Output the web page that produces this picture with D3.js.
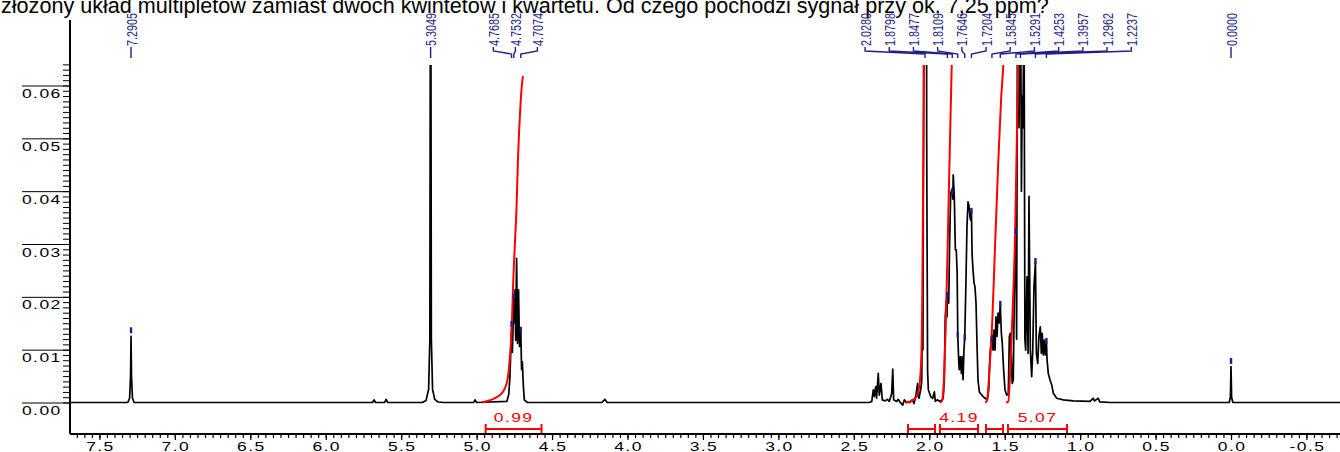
<!DOCTYPE html>
<html><head><meta charset="utf-8">
<script src="https://cdn.jsdelivr.net/npm/d3@7"></script>
<style>
html,body{margin:0;padding:0;background:#fff;overflow:hidden}
svg{display:block}
</style></head><body>
<svg id="chart" width="1340" height="452"></svg>
<script>
// ---------- data ----------
const titleText = "złożony układ multipletów zamiast dwóch kwintetów i kwartetu. Od czego pochodzi sygnał przy ok. 7,25 ppm?";

const xTickLabels = ["7.5","7.0","6.5","6.0","5.5","5.0","4.5","4.0","3.5","3.0","2.5","2.0","1.5","1.0","0.5","0.0","-0.5"];
const yTickLabels = ["0.00","0.01","0.02","0.03","0.04","0.05","0.06"];

// 1H spectrum trace: chemical shift (ppm) and intensity
const spectrumPpm = [
  7.695, 7.40, 7.312, 7.300, 7.2935, 7.2905, 7.2875, 7.281, 7.270,
  5.80, 5.69, 5.68, 5.67, 5.61, 5.60, 5.59,
  5.36, 5.335, 5.318, 5.310, 5.3049, 5.300, 5.292, 5.278, 5.255, 5.22,
  5.02, 5.01, 5.00,
  4.800, 4.787, 4.779, 4.7685, 4.763, 4.7532, 4.749, 4.745, 4.741, 4.735, 4.729, 4.722, 4.716,
  4.7074, 4.702, 4.697, 4.690, 4.684, 4.664,
  4.17, 4.15, 4.135,
  2.40, 2.381, 2.371, 2.364, 2.355, 2.349, 2.338, 2.331, 2.320, 2.311, 2.293, 2.278, 2.265,
  2.249, 2.242, 2.236, 2.216, 2.205, 2.194, 2.176, 2.165, 2.149, 2.128, 2.112, 2.101, 2.088,
  2.077, 2.068, 2.057, 2.050, 2.046, 2.042, 2.038, 2.032, 2.024, 2.017, 2.011, 2.006, 1.990, 1.977,
  1.966, 1.960, 1.947, 1.929, 1.911, 1.907, 1.900, 1.894, 1.887, 1.882, 1.8798, 1.871, 1.865,
  1.858, 1.8477, 1.844, 1.841, 1.834, 1.827, 1.821, 1.815, 1.8109, 1.805, 1.801, 1.794, 1.787,
  1.781, 1.776, 1.770, 1.7646, 1.756, 1.750, 1.743, 1.736, 1.730, 1.726, 1.7204, 1.716, 1.710,
  1.703, 1.697, 1.690, 1.683, 1.677, 1.668, 1.652, 1.630, 1.615, 1.606, 1.597, 1.591, 1.5845,
  1.577, 1.571, 1.564, 1.558, 1.551, 1.544, 1.538, 1.5291, 1.522, 1.516, 1.507, 1.498, 1.487,
  1.476, 1.469, 1.463, 1.456, 1.450, 1.443, 1.436, 1.4253, 1.421, 1.414, 1.405, 1.3957, 1.389,
  1.384, 1.379, 1.372, 1.366, 1.361, 1.352, 1.345, 1.339, 1.330, 1.321, 1.314, 1.306, 1.2962,
  1.290, 1.281, 1.273, 1.264, 1.257, 1.251, 1.244, 1.237, 1.231, 1.2237, 1.219, 1.211, 1.200,
  1.188, 1.177, 1.155, 1.111, 1.045, 0.935, 0.913, 0.905, 0.895, 0.880, 0.870, 0.80,
  0.012, 0.004, 0.0, -0.004, -0.012, -0.7224
];
const spectrumIntensity = [
  0, 0, 0, 0.0008, 0.005, 0.0125, 0.005, 0.0008, 0,
  0, 0, 0.0005, 0, 0, 0.0006, 0,
  0, 0.0004, 0.0025, 0.012, 0.11, 0.012, 0.0025, 0.0006, 0.0001, 0,
  0, 0.0005, 0,
  0.0002, 0.0015, 0.0050, 0.0142, 0.0095, 0.0197, 0.0150, 0.0213, 0.0118, 0.0273, 0.0112, 0.0213, 0.0106,
  0.0140, 0.0062, 0.0077, 0.0030, 0.0005, 0,
  0, 0.0006, 0,
  0, 0.0002, 0.0024, 0.0011, 0.0030, 0.0008, 0.0055, 0.0014, 0.0036, 0.0005, 0.0003, 0.0006, 0.0002,
  0.0017, 0.0063, 0.0005, 0.0002, 0.0006, 0.0001, -0.0005, 0.0005, 0, 0, 0.0005, -0.0002, 0.0014,
  0.0036, 0.0008, 0.0024, 0.0040, 0.0156, 0.0100, 0.05, 0.30, 0.30, 0.05, 0.0060, 0.0024, 0.0011, 0.0008,
  0.0020, 0.0002, 0.0005, 0.0002, 0.0006, 0.0011, 0.0043, 0.0162, 0.0194, 0.0162, 0.0205, 0.0188, 0.0301,
  0.0396, 0.0405, 0.0385, 0.0431, 0.0390, 0.0289, 0.0289, 0.0245, 0.0128, 0.0080, 0.0062, 0.0087, 0.0055,
  0.0087, 0.0043, 0.0099, 0.0125, 0.0238, 0.0333, 0.0380, 0.0371, 0.0352, 0.0345, 0.0362, 0.0280, 0.0251,
  0.0226, 0.0219, 0.0188, 0.0106, 0.0043, 0.0020, 0.0014, 0.0008, 0.0005, 0.0024, 0.0093, 0.0110, 0.0128,
  0.0099, 0.0137, 0.0099, 0.0162, 0.0125, 0.0169, 0.0150, 0.0185, 0.0131, 0.0112, 0.0062, 0.0024, 0.0014,
  0.0017, 0.0125, 0.0131, 0.0093, 0.0036, 0.0043, 0.0207, 0.0322, 0.0120, 0.090, 0.052, 0.085, 0.040,
  0.058, 0.052, 0.080, 0.0120, 0.0099, 0.0238, 0.0093, 0.0390, 0.0099, 0.0049, 0.0099, 0.0219, 0.0265,
  0.0093, 0.0074, 0.0125, 0.0143, 0.0093, 0.0131, 0.0090, 0.0118, 0.0090, 0.0118, 0.0080, 0.0055, 0.0043,
  0.0033, 0.0017, 0.0008, 0.0005, 0.0003, 0.0002, 0.0008, 0.0003, 0.0005, 0.0008, 0.0001, 0,
  0, 0.0010, 0.0068, 0.0010, 0, 0
];

// picked peaks: shift, peak height, label group
const peakPpm    = [7.2905, 5.3049, 4.7685, 4.7532, 4.7074, 2.0280, 1.8798, 1.8477, 1.8109, 1.7646, 1.7204, 1.5845, 1.5291, 1.4253, 1.3957, 1.2962, 1.2237, 0.0000];
const peakHeight = [0.0131, 0.11, 0.0143, 0.0195, 0.0132, 0.30, 0.0198, 0.0393, 0.0122, 0.0118, 0.0357, 0.0115, 0.0181, 0.0319, 0.085, 0.0262, 0.0111, 0.0073];
const peakGroup  = [0, 1, 2, 2, 2, 3, 3, 3, 3, 3, 3, 3, 3, 3, 3, 3, 3, 4];

// integral regions
const integralFrom  = [4.94, 2.141, 1.929, 1.624, 1.478];
const integralTo    = [4.57, 1.962, 1.677, 1.511, 1.087];
const integralLabel = ["0.99", "", "4.19", "", "5.07"];

// integral curves (running integral)
const integral1Ppm = [4.964, 4.845, 4.800, 4.779, 4.767, 4.757, 4.746, 4.736, 4.726, 4.713, 4.700, 4.693];
const integral1Val = [0, 0.0014, 0.0037, 0.0087, 0.0143, 0.0232, 0.0302, 0.0364, 0.0459, 0.0544, 0.0601, 0.0618];
const integral2Ppm = [2.161, 2.127, 2.083, 2.061, 2.050, 2.046, 2.041, 2.034, 2.029];
const integral2Val = [0, 0.0002, 0.0011, 0.0043, 0.0113, 0.0207, 0.0397, 0.0639, 0.085];
const integral3Ppm = [1.929, 1.917, 1.902, 1.891, 1.878, 1.867, 1.858, 1.851, 1.846];
const integral3Val = [0, 0.0002, 0.0049, 0.0143, 0.0295, 0.0440, 0.0554, 0.0639, 0.0724];
const integral4Ppm = [1.630, 1.619, 1.597, 1.582, 1.564, 1.542, 1.524, 1.509, 1.501];
const integral4Val = [0, 0.0002, 0.0080, 0.0156, 0.0295, 0.0459, 0.0573, 0.0639, 0.0686];
const integral5Ppm = [1.491, 1.476, 1.460, 1.443, 1.432, 1.420, 1.410, 1.405];
const integral5Val = [0, 0.0002, 0.0080, 0.0207, 0.0308, 0.0491, 0.0639, 0.0705];

// ---------- layout ----------
const plotLeft = 70, plotRight = 1340, plotTop = 65, axisY = 434;
const FONT = "'Liberation Sans', Arial, Helvetica, sans-serif";
const NAVY = "#1f1f8a", RED = "#ff0000";

const svg = d3.select("#chart");
const x = d3.scaleLinear().domain([7.695, -0.7224]).range([plotLeft, plotRight]);
const y = d3.scaleLinear().domain([0, 0.06]).range([402.5, 85.5]);

svg.append("defs").append("clipPath").attr("id", "plotClip")
  .append("rect").attr("x", plotLeft + 1).attr("y", plotTop)
  .attr("width", plotRight - plotLeft).attr("height", axisY - plotTop - 1);

// stretched tick-label text
function wideText(g, tx, ty, str, anchor, color) {
  return g.append("text")
    .attr("transform", `translate(${tx},${ty}) scale(1.4,1)`)
    .attr("text-anchor", anchor)
    .attr("font-family", FONT).attr("font-size", 12.5)
    .attr("letter-spacing", 1)
    .attr("fill", color || "#000")
    .text(str);
}

// title
svg.append("text").attr("x", 1).attr("y", 13)
  .attr("font-family", FONT).attr("font-size", 21.6).attr("fill", "#000")
  .text(titleText);

// ---------- y axis ----------
const yMinor = d3.range(0, 65).map(i => i / 1000);
const yMajor = yTickLabels.map(Number);
svg.append("g").attr("transform", `translate(${plotLeft},0)`)
  .call(d3.axisLeft(y).tickValues(yMinor).tickSize(7).tickFormat(""))
  .call(g => g.select(".domain").remove())
  .call(g => g.selectAll("line").attr("stroke", "#000").attr("stroke-width", 1));
svg.append("g").attr("transform", `translate(${plotLeft},0)`)
  .call(d3.axisLeft(y).tickValues(yMajor).tickSize(48).tickFormat(""))
  .call(g => g.select(".domain").remove())
  .call(g => g.selectAll("line").attr("stroke", "#000").attr("stroke-width", 1));
yTickLabels.forEach(t => wideText(svg, 22, y(+t) + 12.5, t, "start"));
svg.append("line").attr("x1", plotLeft).attr("x2", plotLeft)
  .attr("y1", 20).attr("y2", axisY).attr("stroke", "#000").attr("stroke-width", 2);

// ---------- x axis ----------
const xMinor = d3.range(-14, 154).map(i => i * 0.05).filter(v => v <= 7.69 && v >= -0.72);
const xMajor = xTickLabels.map(Number);
svg.append("g").attr("transform", `translate(0,${axisY})`)
  .call(d3.axisBottom(x).tickValues(xMinor).tickSize(4).tickFormat(""))
  .call(g => g.select(".domain").remove())
  .call(g => g.selectAll("line").attr("stroke", "#000").attr("stroke-width", 1.2));
svg.append("g").attr("transform", `translate(0,${axisY})`)
  .call(d3.axisBottom(x).tickValues(xMajor).tickSize(6).tickFormat(""))
  .call(g => g.select(".domain").remove())
  .call(g => g.selectAll("line").attr("stroke", "#000").attr("stroke-width", 1.2));
xTickLabels.forEach(t => wideText(svg, x(+t) + 1, 451, t, "middle"));
svg.append("line").attr("x1", plotLeft).attr("x2", plotRight)
  .attr("y1", axisY).attr("y2", axisY).attr("stroke", "#000").attr("stroke-width", 2);

// ---------- spectrum ----------
const plot = svg.append("g").attr("clip-path", "url(#plotClip)");
const specData = spectrumPpm.map((p, i) => [p, spectrumIntensity[i]]);
plot.append("path").datum(specData)
  .attr("d", d3.line().x(d => x(d[0])).y(d => y(d[1])))
  .attr("fill", "none").attr("stroke", "#000").attr("stroke-width", 1.7)
  .attr("stroke-linejoin", "round");

// ---------- integral curves ----------
[[integral1Ppm, integral1Val], [integral2Ppm, integral2Val], [integral3Ppm, integral3Val],
 [integral4Ppm, integral4Val], [integral5Ppm, integral5Val]].forEach(([ps, vs]) => {
  plot.append("path").datum(ps.map((p, i) => [p, vs[i]]))
    .attr("d", d3.line().x(d => x(d[0])).y(d => y(d[1])).curve(d3.curveMonotoneX))
    .attr("fill", "none").attr("stroke", RED).attr("stroke-width", 2);
});

// integral brackets and values
const bracketY = 429;
integralFrom.forEach((f, i) => {
  const x1 = x(f), x2 = x(integralTo[i]);
  const g = svg.append("g").attr("stroke", RED).attr("stroke-width", 2);
  g.append("line").attr("x1", x1).attr("x2", x2).attr("y1", bracketY).attr("y2", bracketY);
  g.append("line").attr("x1", x1).attr("x2", x1).attr("y1", bracketY - 5).attr("y2", bracketY + 4);
  g.append("line").attr("x1", x2).attr("x2", x2).attr("y1", bracketY - 5).attr("y2", bracketY + 4);
  if (integralLabel[i]) wideText(svg, (x1 + x2) / 2, 422, integralLabel[i], "middle", RED);
});

// ---------- peak markers ----------
peakPpm.forEach((p, i) => {
  plot.append("rect").attr("x", x(p) - 1.2).attr("width", 2.4)
    .attr("y", y(peakHeight[i]) - 6).attr("height", 6).attr("fill", NAVY);
});

// ---------- peak labels ----------
const groupSpacing = {2: 22, 3: 24.2};
const groupShift = {2: 0, 3: 12.4};
d3.groups(peakPpm.map((p, i) => ({p, g: peakGroup[i]})), d => d.g).forEach(([gid, items]) => {
  const px = items.map(d => x(d.p));
  const n = items.length;
  const sp = groupSpacing[gid] || 0;
  const center = d3.mean(px) + (groupShift[gid] || 0);
  items.forEach((d, k) => {
    const lx = n === 1 ? px[k] : center + (k - (n - 1) / 2) * sp;
    svg.append("text")
      .attr("transform", `translate(${lx},46) rotate(-90)`)
      .attr("text-anchor", "start").attr("dominant-baseline", "central")
      .attr("font-family", FONT).attr("font-size", 15.5)
      .attr("textLength", 33).attr("lengthAdjust", "spacingAndGlyphs")
      .attr("fill", NAVY)
      .text(d.p.toFixed(4));
    svg.append("path")
      .attr("d", `M${lx},47V51L${px[k]},54V58`)
      .attr("fill", "none").attr("stroke", NAVY).attr("stroke-width", 1.4);
  });
});
</script>
</body></html>
